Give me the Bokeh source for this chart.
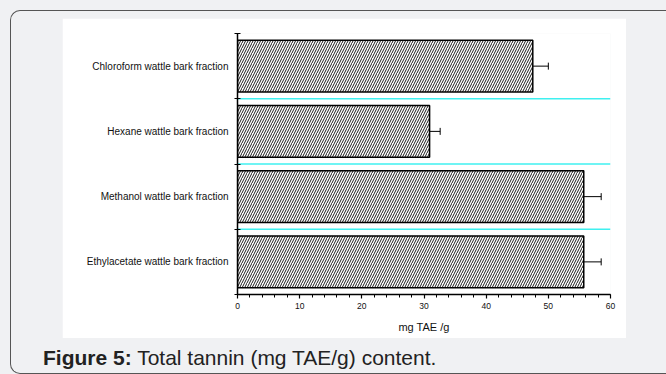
from bokeh.plotting import figure
from bokeh.models import (ColumnDataSource, FixedTicker, SingleIntervalTicker, Whisker,
                          TeeHead, Range1d, Div, Spacer, Column, Row)
from bokeh.embed import file_html
from bokeh.resources import INLINE

categories = ["Ethylacetate wattle bark fraction", "Methanol wattle bark fraction",
              "Hexane wattle bark fraction", "Chloroform wattle bark fraction"]
values = [55.7, 55.7, 30.9, 47.5]
errors = [2.8, 2.8, 1.7, 2.5]
x_label = "mg TAE /g"
caption_bold = "Figure 5:"
caption_text = "Total tannin (mg TAE/g) content."

ypos = list(range(1, len(categories) + 1))
src = ColumnDataSource(dict(
    y=ypos, val=values,
    lower=[v - e for v, e in zip(values, errors)],
    upper=[v + e for v, e in zip(values, errors)],
))

FONT = "Liberation Sans"
GRAY = "#f0f1f3"

p = figure(width=564, height=320, output_backend="svg", toolbar_location=None,
           x_range=Range1d(0, 60), y_range=Range1d(0.5, len(categories) + 0.5),
           min_border_left=175, min_border_right=16, min_border_top=15, min_border_bottom=44)
p.border_fill_color = "white"
p.background_fill_color = "white"
p.outline_line_color = None
p.xgrid.visible = False
p.ygrid.visible = False

# separators
bounds = [y + 0.5 for y in ypos[:-1]]
p.segment(x0=[0] * len(bounds), x1=[60] * len(bounds), y0=bounds, y1=bounds,
          line_color="#3ff0f0", line_width=1.6)

p.hbar(y="y", right="val", left=0, height=0.79, source=src,
       fill_color="white", line_color="black", line_width=1.5,
       hatch_pattern="/", hatch_scale=5, hatch_weight=1, hatch_color="#1a1a1a")

w = Whisker(base="y", lower="lower", upper="upper", dimension="width", source=src,
            line_color="black", line_width=1,
            lower_head=TeeHead(size=7, line_width=1, line_color="black"),
            upper_head=TeeHead(size=7, line_width=1, line_color="black"))
p.add_layout(w)

# axes
xa = p.xaxis[0]
xa.ticker = SingleIntervalTicker(interval=10, num_minor_ticks=5)
xa.axis_label = x_label
xa.axis_label_text_font = FONT
xa.axis_label_text_font_size = "11px"
xa.axis_label_text_font_style = "normal"
xa.axis_label_text_color = "#111111"
xa.axis_label_standoff = 9
xa.major_label_text_font = FONT
xa.major_label_text_font_size = "8.5px"
xa.major_label_text_color = "#111111"
xa.major_label_standoff = 4
xa.major_tick_in = 0
xa.major_tick_out = 4
xa.minor_tick_in = 0
xa.minor_tick_out = 3
xa.axis_line_width = 1.5
xa.major_tick_line_width = 1.2

ya = p.yaxis[0]
ya.ticker = FixedTicker(ticks=ypos, minor_ticks=[0.5] + [y + 0.5 for y in ypos])
ya.major_label_overrides = {y: c for y, c in zip(ypos, categories)}
ya.major_label_text_font = FONT
ya.major_label_text_font_size = "10px"
ya.major_label_text_color = "#111111"
ya.major_label_standoff = 6
ya.major_tick_in = 0
ya.major_tick_out = 0
ya.minor_tick_in = 3
ya.minor_tick_out = 3
ya.minor_tick_line_width = 1.2
ya.axis_line_width = 1.5

caption = Div(text=f"<b>{caption_bold}</b> {caption_text}", width=560, height=26,
              styles={"font-family": FONT, "font-size": "21px", "color": "#222222",
                      "line-height": "24px", "white-space": "nowrap"})

inner = Column(children=[
    Spacer(height=7),
    Row(children=[Spacer(width=51), p]),
    Spacer(height=3),
    Row(children=[Spacer(width=27), caption]),
], width=656, height=364,
    styles={"border-left": "1px solid #555555", "border-top": "1px solid #555555",
            "border-bottom": "1px solid #555555",
            "border-top-left-radius": "10px", "border-bottom-left-radius": "10px",
            "background-color": GRAY})

root = Column(children=[Spacer(height=10), Row(children=[Spacer(width=10), inner])],
              width=666, height=374, styles={"background-color": GRAY})

open("out.html", "w").write(file_html(root, INLINE))
